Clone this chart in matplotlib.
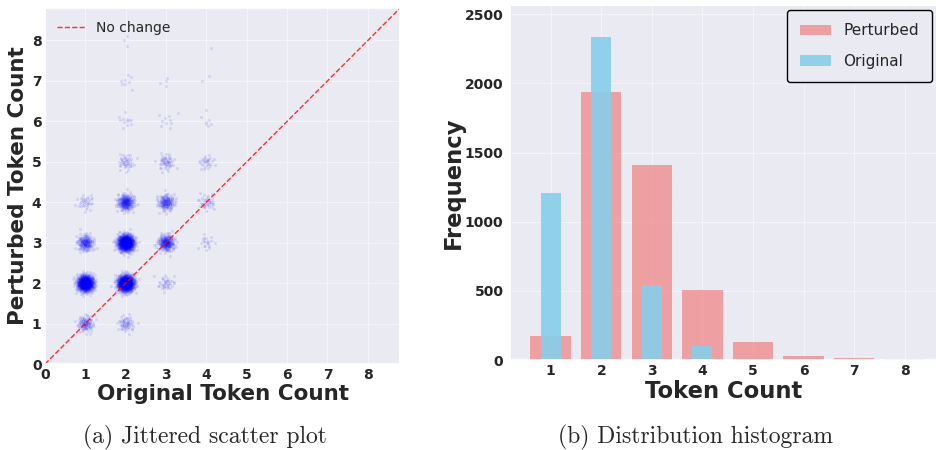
import numpy as np
import matplotlib
matplotlib.use("Agg")
import matplotlib.pyplot as plt
import seaborn as sns

# histogram values
token_counts = [1, 2, 3, 4, 5, 6, 7, 8]
perturbed_freq = [173, 1941, 1407, 505, 130, 29, 14, 7]
original_freq = [1207, 2338, 541, 101, 5, 4, 3, 5]

# scatter: number of (original, perturbed) pairs in each cell
cell_original = [1, 1, 1, 1, 2, 2, 2, 2, 2, 2, 2, 2, 3, 3, 3, 3, 3, 3, 4, 4, 4, 4, 4, 4]
cell_perturbed = [1, 2, 3, 4, 1, 2, 3, 4, 5, 6, 7, 8, 2, 3, 4, 5, 6, 7, 3, 4, 5, 6, 7, 8]
cell_count = [110, 870, 192, 35, 63, 1030, 930, 260, 45, 12, 8, 3, 40, 262, 170, 55, 10, 4,
              20, 40, 30, 7, 2, 1]

sns.set_theme(style="darkgrid", rc={'grid.color': '#f4f4f8', 'grid.linewidth': 0.8})
plt.rcParams['font.family'] = ['DejaVu Sans']


def halton(k, base):
    out = np.zeros(len(k))
    f = 1.0
    k = k.copy()
    while np.any(k > 0):
        f /= base
        out += f * (k % base)
        k //= base
    return out


def jitter(n, start, sigma=0.1):
    # deterministic spread of the points in a cell (Halton + Box-Muller)
    k = np.arange(start + 1, start + n + 1)
    u1 = halton(k, 2)
    u2 = halton(k, 3)
    r = sigma * np.sqrt(-2 * np.log(1 - u1 * 0.999))
    return r * np.cos(2 * np.pi * u2), r * np.sin(2 * np.pi * u2)


fig = plt.figure(figsize=(9.37, 4.5), dpi=100)

# (a) jittered scatter
ax1 = fig.add_axes([0.048, 0.191, 0.379, 0.791])
xs, ys = [], []
start = 0
for ox, py, n in zip(cell_original, cell_perturbed, cell_count):
    dx, dy = jitter(n, start)
    start += n
    xs.append(ox + dx)
    ys.append(py + dy)
ax1.scatter(np.concatenate(xs), np.concatenate(ys), s=5, color='blue', alpha=0.1,
            linewidths=0)
lim = 8.8
ax1.plot([0, lim], [0, lim], '--', color='red', lw=1, alpha=0.8, label='No change')
ax1.set_xlim(0, lim)
ax1.set_ylim(0, lim)
ax1.set_xticks(range(0, 9))
ax1.set_yticks(range(0, 9))
ax1.tick_params(labelsize=10, length=0, pad=2.5)
for t in ax1.get_xticklabels() + ax1.get_yticklabels():
    t.set_fontweight('bold')
ax1.set_xlabel('Original Token Count', fontsize=15.5, fontweight='bold', labelpad=2)
ax1.set_ylabel('Perturbed Token Count', fontsize=15.5, fontweight='bold')
ax1.yaxis.set_label_coords(-0.048, 0.5)
ax1.legend(loc='upper left', fontsize=10, frameon=False)

# (b) distribution histogram
ax2 = fig.add_axes([0.544, 0.2, 0.456, 0.789])
ax2.bar(token_counts, perturbed_freq, width=0.8, color='lightcoral', alpha=0.7,
        linewidth=0, label='Perturbed')
ax2.bar(token_counts, original_freq, width=0.4, color='skyblue', alpha=0.9,
        linewidth=0, label='Original')
ax2.set_xlim(0.19, 8.64)
ax2.set_ylim(0, 2567)
ax2.set_xticks(token_counts)
ax2.set_yticks([0, 500, 1000, 1500, 2000, 2500])
ax2.tick_params(labelsize=10, length=0)
ax2.tick_params(axis='x', pad=3)
ax2.tick_params(axis='y', pad=4.5)
for t in ax2.get_xticklabels() + ax2.get_yticklabels():
    t.set_fontweight('bold')
ax2.set_xlabel('Token Count', fontsize=16.3, fontweight='bold', labelpad=1)
ax2.set_ylabel('Frequency', fontsize=16.3, fontweight='bold')
ax2.yaxis.set_label_coords(-0.105, 0.5)
leg = ax2.legend(loc='upper right', fontsize=11, frameon=True, borderpad=0.9,
                 labelspacing=1.0, facecolor='#EAEAF2', framealpha=1,
                 borderaxespad=0.3, handlelength=2.0)
leg.get_frame().set_edgecolor('black')

# captions
fig.text(0.219, 0.015, '(a) Jittered scatter plot', ha='center', fontsize=17,
         family='cmr10')
fig.text(0.742, 0.015, '(b) Distribution histogram', ha='center', fontsize=17,
         family='cmr10')

fig.savefig('out.png', dpi=100)
